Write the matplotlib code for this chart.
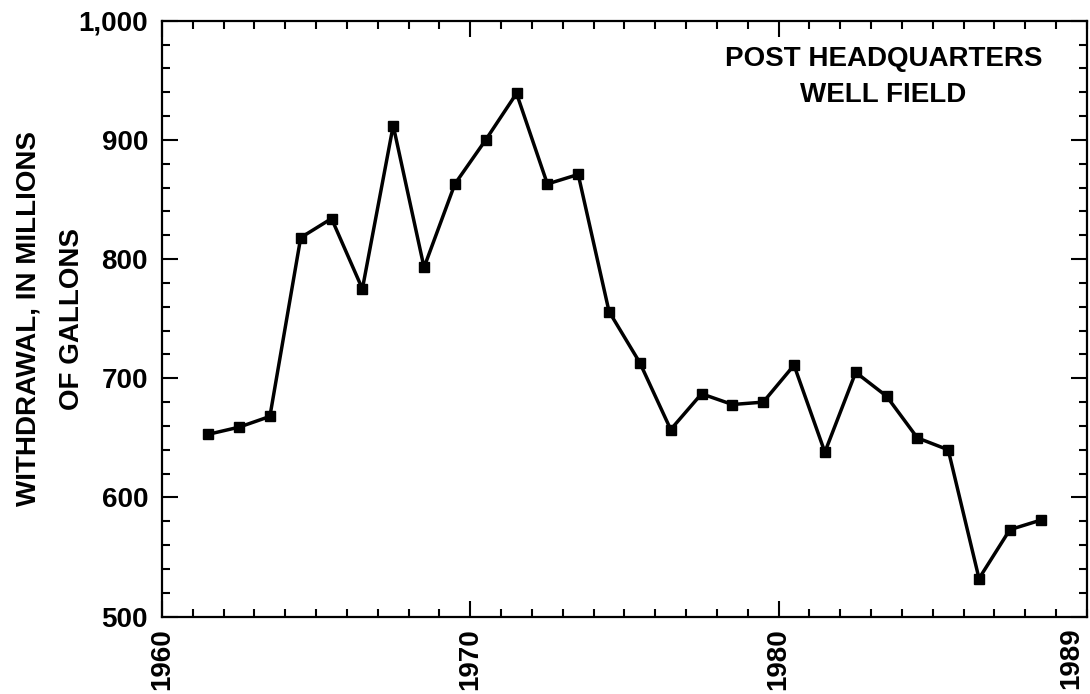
import numpy as np
import matplotlib.pyplot as plt
from matplotlib.ticker import MultipleLocator, FuncFormatter

years = list(range(1961, 1989))
withdrawal = [653, 659, 668, 818, 834, 775, 912, 793, 863, 900, 939, 863, 871, 756,
              713, 657, 687, 678, 680, 711, 638, 705, 685, 650, 640, 532, 573, 581]
midyear = 0.5

plt.rcParams['font.family'] = ['Liberation Sans', 'DejaVu Sans']
plt.rcParams['font.weight'] = 'bold'

fig = plt.figure(figsize=(10.9, 6.94), dpi=100)
ax = fig.add_axes([0.1486, 0.1114, 0.8486, 0.8588])

x = np.array(years) + midyear
ax.plot(x, withdrawal, color='black', lw=2.5, marker='s', ms=6.5)

ax.set_xlim(1960, 1990)
ax.set_ylim(500, 1000)

ax.set_xticks([1960, 1970, 1980, 1989.5], ['1960', '1970', '1980', '1989'])
ax.xaxis.set_minor_locator(MultipleLocator(1))
ax.yaxis.set_major_locator(MultipleLocator(100))
ax.yaxis.set_minor_locator(MultipleLocator(20))
ax.yaxis.set_major_formatter(FuncFormatter(lambda v, p: f'{int(v):,}'))

for lab in ax.get_xticklabels():
    lab.set_rotation(90)

ax.tick_params(which='both', direction='in', top=True, right=True, width=1.5,
               labelsize=20)
ax.tick_params(which='major', length=11.5)
ax.tick_params(which='minor', length=6)
ax.tick_params(axis='y', pad=10)
ax.tick_params(axis='x', pad=8)

last = ax.xaxis.get_major_ticks()[-1]
last.tick1line.set_visible(False)
last.tick2line.set_visible(False)

for s in ax.spines.values():
    s.set_linewidth(1.6)

ax.set_ylabel('WITHDRAWAL, IN MILLIONS\nOF GALLONS', fontsize=20, fontweight='bold',
              linespacing=1.9, labelpad=-5)

ax.text(0.78, 0.905, 'POST HEADQUARTERS\nWELL FIELD', transform=ax.transAxes,
        ha='center', va='center', fontsize=20, fontweight='bold', linespacing=1.5)

fig.savefig('out.png', dpi=100)
